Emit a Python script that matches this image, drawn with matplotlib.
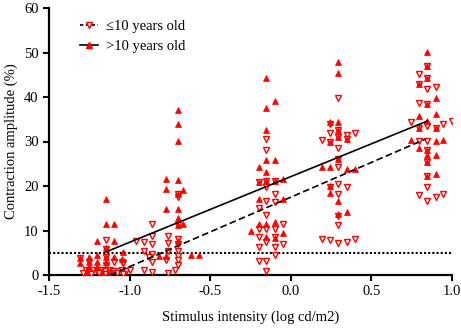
import numpy as np
import matplotlib
matplotlib.use('Agg')
import matplotlib.pyplot as plt
from matplotlib.lines import Line2D

plt.rcParams['font.family'] = ['Liberation Serif', 'DejaVu Serif']
plt.rcParams['axes.unicode_minus'] = False

# <=10 years old (open down triangles)
young_x = [-1.27, -1.25, -1.23, -1.20, -1.17, -1.15, -1.12, -1.10, -1.07, -1.05, -1.02, -1.00,
           -1.29, -1.24, -1.19, -1.15, -1.12, -1.08, -1.04, -1.146, -1.05, -1.25, -1.146,
           -1.31, -1.097, -1.043, -1.146, -1.146,
           -0.863, -0.96, -0.911, -0.863, -0.863, -0.76, -0.76, -0.698, -0.698, -0.911, -0.76,
           -0.698, -0.863, -0.88, -0.698, -0.863, -0.774, -0.698, -0.698, -0.911, -0.863, -0.76,
           -0.72, -0.698, -0.698, -0.698,
           -0.154, -0.154, -0.20, -0.154, -0.10, -0.154, -0.10, -0.154, -0.10, -0.20, -0.154,
           -0.20, -0.154, -0.10, -0.05, -0.20, -0.154, -0.10, -0.05, -0.20, -0.10, -0.20,
           -0.154, -0.10, -0.154,
           0.295, 0.243, 0.243, 0.347, 0.398, 0.192, 0.243, 0.295, 0.295, 0.347, 0.295, 0.295,
           0.243, 0.295, 0.347, 0.295, 0.295, 0.295, 0.192, 0.243, 0.295, 0.347, 0.398, 0.295,
           0.847, 0.795, 0.847, 0.795, 0.847, 0.899, 0.795, 0.847, 0.744, 0.998, 0.795, 0.847,
           0.899, 0.946, 0.795, 0.847, 0.847, 0.847, 0.847, 0.847, 0.795, 0.847, 0.899, 0.946]
young_y = [1.1, 1.0, 1.2, 0.9, 1.1, 1.0, 1.2, 0.9, 1.0, 1.1, 1.0, 1.2,
           0.4, 0.3, 0.5, 0.3, 0.4, 0.5, 0.3, 2.2, 3.0, 3.0, 4.1,
           3.8, 3.0, 2.7, 7.8, 5.8,
           11.4, 7.7, 7.4, 8.7, 6.9, 8.7, 7.2, 8.2, 7.0, 5.4, 5.4,
           5.4, 4.7, 4.1, 4.3, 3.0, 3.3, 3.3, 2.2, 1.1, 0.7, 0.4,
           1.1, 11.2, 18.2, 17.5,
           30.5, 28.1, 20.8, 21.2, 21.2, 19.7, 18.2, 16.7, 16.4, 15.0, 13.4,
           10.4, 10.4, 10.4, 11.4, 8.6, 7.4, 8.6, 6.9, 6.3, 6.2, 3.2,
           3.2, 4.5, 1.0,
           39.7, 34.0, 32.0, 31.5, 32.0, 30.4, 29.8, 30.9, 28.6, 30.5, 26.0, 24.2,
           19.7, 20.5, 19.7, 18.2, 13.2, 11.2, 8.2, 7.8, 7.2, 7.4, 8.0, 32.5,
           46.9, 45.2, 44.3, 42.9, 41.9, 42.2, 38.6, 38.5, 34.4, 34.7, 33.1, 33.5,
           33.1, 34.0, 30.2, 30.2, 28.0, 25.3, 22.3, 19.7, 17.9, 16.7, 17.5, 18.2]

# >10 years old (filled up triangles)
old_x = [-1.146, -1.146, -1.097, -1.20, -1.097, -1.146, -1.25, -1.20, -1.146, -1.097, -1.05,
         -1.25, -1.20, -1.146, -1.31, -1.31, -1.25, -1.20, -1.173, -1.12, -1.27, -1.043,
         -0.698, -0.698, -0.698, -0.774, -0.698, -0.774, -0.67, -0.698, -0.774, -0.698,
         -0.698, -0.698, -0.67, -0.82, -0.774, -0.62, -0.569, -0.698,
         -0.154, -0.10, -0.154, -0.154, -0.154, -0.10, -0.20, -0.154, -0.20, -0.154, -0.10,
         -0.05, -0.20, -0.05, -0.25, -0.20, -0.154, -0.10, -0.05, -0.154, -0.10,
         0.295, 0.295, 0.243, 0.295, 0.295, 0.243, 0.295, 0.347, 0.295, 0.192, 0.243, 0.347,
         0.398, 0.243, 0.295, 0.295, 0.347, 0.243,
         0.847, 0.847, 0.847, 0.795, 0.899, 0.847, 0.795, 0.899, 0.795, 0.899, 0.744, 0.899,
         0.946, 0.795, 0.847, 0.899, 0.847, 0.847, 0.847, 0.899, 0.847]
old_y = [17.0, 11.5, 11.5, 7.6, 7.6, 6.0, 4.1, 4.5, 4.1, 4.1, 3.5,
         3.0, 3.0, 3.0, 3.8, 2.6, 1.9, 1.9, 0.6, 0.8, 0.5, 5.2,
         37.0, 34.0, 30.1, 21.6, 21.4, 19.3, 19.0, 18.2, 14.9, 14.9,
         12.7, 11.2, 11.4, 4.3, 4.3, 4.5, 4.5, 7.6,
         44.3, 39.2, 37.6, 32.5, 25.9, 25.9, 24.2, 23.1, 20.8, 21.2, 21.2,
         21.6, 17.1, 17.1, 10.0, 11.5, 11.5, 11.9, 9.5, 8.6, 8.3,
         47.8, 45.4, 34.4, 34.4, 32.5, 29.8, 30.9, 30.5, 26.0, 24.2, 24.2, 23.8,
         23.8, 18.4, 16.7, 13.8, 14.1, 20.0,
         50.1, 46.9, 44.3, 42.9, 39.8, 38.5, 35.7, 36.1, 33.1, 33.1, 30.3, 30.2,
         30.4, 28.5, 28.0, 27.0, 27.0, 25.3, 22.3, 22.7, 34.6]

# fitted lines
fit_young_x = [-1.12, 0.833]
fit_young_y = [0.0, 30.5]
fit_old_x = [-1.146, 0.847]
fit_old_y = [5.2, 34.6]
threshold = 5

fig = plt.figure(figsize=(4.61, 3.28), dpi=100)
ax = fig.add_axes([49 / 461, 53 / 328, 403 / 461, 267 / 328])

red = '#ff0000'
ax.plot(young_x, young_y, linestyle='none', marker='v', markersize=5,
        markerfacecolor='white', markeredgecolor=red, markeredgewidth=1.0, zorder=3)
ax.plot(old_x, old_y, linestyle='none', marker='^', markersize=5,
        markerfacecolor=red, markeredgecolor=red, markeredgewidth=0.5, zorder=3)
ax.plot(fit_young_x, fit_young_y, color='black', linestyle=(0, (4, 2)), lw=1.2, zorder=4)
ax.plot(fit_old_x, fit_old_y, color='black', linestyle='-', lw=1.2, zorder=4)
ax.axhline(threshold, color='black', linestyle=(0, (1, 1)), lw=1.5, zorder=2)

ax.set_xlim(-1.5, 1.0)
ax.set_ylim(0, 60)
ax.set_xticks(np.arange(-1.5, 1.01, 0.5))
ax.set_xticklabels(['-1.5', '-1.0', '-0.5', '0.0', '0.5', '1.0'])
ax.set_yticks(range(0, 61, 10))
ax.tick_params(labelsize=10.5, width=1.5, length=4, direction='out')
for s in ['top', 'right']:
    ax.spines[s].set_visible(False)
for s in ['left', 'bottom']:
    ax.spines[s].set_linewidth(1.6)

ax.set_xlabel('Stimulus intensity (log cd/m2)', fontsize=10.5, labelpad=9)
ax.set_ylabel('Contraction amplitude (%)', fontsize=10.5, labelpad=4)

h1 = Line2D([], [], color='black', linestyle=(0, (2, 1.5)), lw=1.2, marker='v', markersize=4.5,
            markerfacecolor='white', markeredgecolor=red)
h2 = Line2D([], [], color='black', linestyle='-', lw=1.2, marker='^', markersize=4.5,
            markerfacecolor=red, markeredgecolor=red)
ax.legend([h1, h2], ['\u226410 years old', '>10 years old'], loc='upper left',
          bbox_to_anchor=(0.077, 0.955), frameon=False, fontsize=10.5,
          handlelength=1.2, handletextpad=0.6, borderpad=0, borderaxespad=0, labelspacing=0.45)

fig.savefig('out.png', dpi=100)
